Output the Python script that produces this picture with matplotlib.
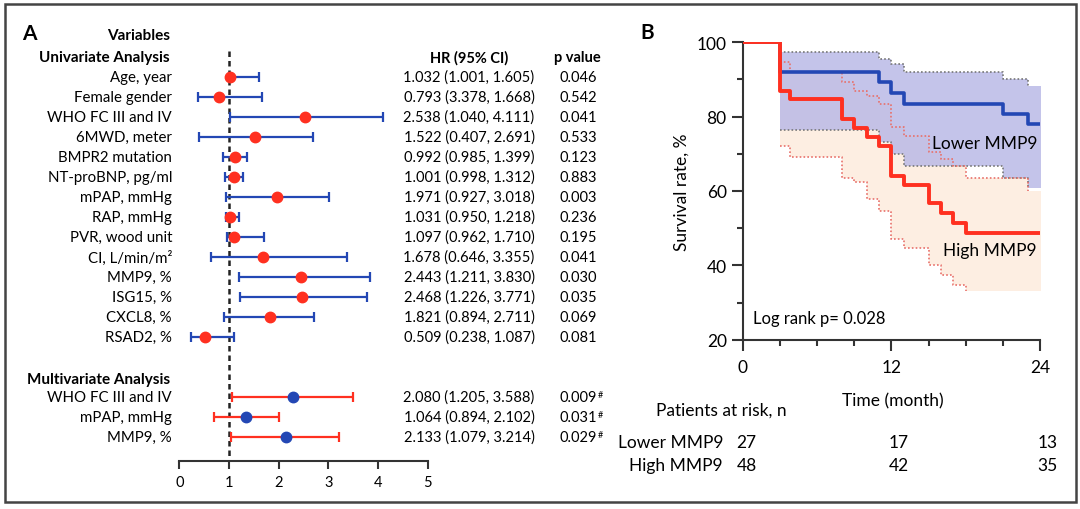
import matplotlib
matplotlib.use('Agg')
import matplotlib.pyplot as plt
import matplotlib.transforms as mtransforms
from matplotlib.patches import Rectangle
from matplotlib.ticker import MultipleLocator

plt.rcParams['font.family'] = ['Lato', 'DejaVu Sans']

# ---------------- Panel A data ----------------
uni_labels = ['Age, year', 'Female gender', 'WHO FC III and IV', '6MWD, meter',
              'BMPR2 mutation', 'NT-proBNP, pg/ml', 'mPAP, mmHg', 'RAP, mmHg',
              'PVR, wood unit', 'CI, L/min/m\u00b2', 'MMP9, %', 'ISG15, %',
              'CXCL8, %', 'RSAD2, %']
uni_hr = [1.03, 0.79, 2.54, 1.52, 1.13, 1.11, 1.97, 1.03, 1.11, 1.68, 2.44, 2.47, 1.82, 0.51]
uni_lo = [1.00, 0.38, 1.02, 0.40, 0.88, 0.92, 0.93, 0.95, 0.97, 0.64, 1.21, 1.23, 0.89, 0.24]
uni_hi = [1.60, 1.67, 4.11, 2.70, 1.36, 1.28, 3.02, 1.20, 1.71, 3.37, 3.83, 3.78, 2.71, 1.11]
uni_hr_text = ['1.032 (1.001, 1.605)', '0.793 (3.378, 1.668)', '2.538 (1.040, 4.111)',
               '1.522 (0.407, 2.691)', '0.992 (0.985, 1.399)', '1.001 (0.998, 1.312)',
               '1.971 (0.927, 3.018)', '1.031 (0.950, 1.218)', '1.097 (0.962, 1.710)',
               '1.678 (0.646, 3.355)', '2.443 (1.211, 3.830)', '2.468 (1.226, 3.771)',
               '1.821 (0.894, 2.711)', '0.509 (0.238, 1.087)']
uni_p = ['0.046', '0.542', '0.041', '0.533', '0.123', '0.883', '0.003', '0.236',
         '0.195', '0.041', '0.030', '0.035', '0.069', '0.081']

multi_labels = ['WHO FC III and IV', 'mPAP, mmHg', 'MMP9, %']
multi_hr = [2.29, 1.35, 2.14]
multi_lo = [1.07, 0.69, 1.05]
multi_hi = [3.49, 2.00, 3.21]
multi_hr_text = ['2.080 (1.205, 3.588)', '1.064 (0.894, 2.102)', '2.133 (1.079, 3.214)']
multi_p = ['0.009', '0.031', '0.029']

forest_ticks = [0, 1, 2, 3, 4, 5]

# ---------------- Panel B data ----------------
low_t = [0, 3, 11, 12, 13, 21, 23, 24]
low_s = [100, 92.0, 89.2, 86.3, 83.5, 80.7, 77.9, 77.9]
high_t = [0, 3, 3.8, 8, 9, 10, 11, 12, 13, 15, 16, 17, 18, 24]
high_s = [100, 87.0, 84.8, 79.4, 77.0, 74.6, 72.2, 64.1, 61.7, 56.7, 54.1, 51.4, 48.8, 48.8]

low_ci_t = [3, 11, 12, 13, 21, 23, 24.3]
low_ci_up = [97.3, 95.6, 94.1, 92.1, 90.1, 88.2, 88.2]
low_ci_dn = [76.4, 73.2, 70.0, 66.8, 63.5, 60.7, 60.7]

high_ci_t = [3, 3.8, 8, 9, 10, 11, 12, 13, 15, 16, 17, 18, 23, 24.3]
high_ci_up = [94.6, 91.9, 89.3, 87.0, 85.5, 83.4, 77.1, 74.9, 70.4, 68.6, 66.8, 63.5, 60.1, 60.1]
high_ci_dn = [72.1, 69.2, 63.4, 62.4, 57.9, 54.7, 47.1, 44.6, 40.0, 37.4, 34.6, 33.0, 33.0, 33.0]

risk_times = [0, 12, 24]
risk_low = [27, 17, 13]
risk_high = [48, 42, 35]

BLUE = '#2347b4'
RED = '#ff3020'

W, H = 1080, 510
fig = plt.figure(figsize=(W / 100, H / 100), dpi=100)

def fx(px):
    return px / W

def fy(py):
    return 1 - py / H

# ================= Panel A =================
row_px0, row_step = 78.0, 20.0
ax_top_px, ax_bot_px = 28.0, 462.0
ax = fig.add_axes([fx(179.3), fy(ax_bot_px), fx(427.7) - fx(179.3), fy(ax_top_px) - fy(ax_bot_px)])
ax.set_xlim(0, 5)
ax.set_ylim((ax_bot_px - row_px0) / row_step, (ax_top_px - row_px0) / row_step)
for s in ['left', 'top', 'right']:
    ax.spines[s].set_visible(False)
ax.spines['bottom'].set_linewidth(1.5)
ax.spines['bottom'].set_color('#333333')
ax.set_yticks([])
ax.set_xticks(forest_ticks)
ax.tick_params(axis='x', length=6, width=1.5, color='#333333', labelsize=10.5, pad=4)

uni_y = list(range(len(uni_labels)))
multi_y = [16, 17, 18]

ax.plot([1, 1], [-1.3, ax.get_ylim()[0]], ls=(0, (2.2, 1.6)), color='#222222', lw=1.8, zorder=1)

uni_err = [[h - l for h, l in zip(uni_hr, uni_lo)], [hi - h for h, hi in zip(uni_hr, uni_hi)]]
ax.errorbar(uni_hr, uni_y, xerr=uni_err, fmt='none', ecolor=BLUE, elinewidth=1.6,
            capsize=3.5, capthick=1.6, zorder=2)
ax.plot(uni_hr, uni_y, 'o', color=RED, ms=7.5, zorder=3, clip_on=False)

multi_err = [[h - l for h, l in zip(multi_hr, multi_lo)], [hi - h for h, hi in zip(multi_hr, multi_hi)]]
ax.errorbar(multi_hr, multi_y, xerr=multi_err, fmt='none', ecolor=RED, elinewidth=1.6,
            capsize=3.5, capthick=1.6, zorder=2)
ax.plot(multi_hr, multi_y, 'o', color=BLUE, ms=7.5, zorder=3, clip_on=False)

tr = mtransforms.blended_transform_factory(fig.transFigure, ax.transData)
fs = 10.5
lab_fs = 10.8
lab_x = fx(172)
hr_x = fx(469)
p_x = fx(560)
for y, lab, hrt, p in zip(uni_y, uni_labels, uni_hr_text, uni_p):
    ax.text(lab_x, y, lab, transform=tr, ha='right', va='center', fontsize=lab_fs)
    ax.text(hr_x, y, hrt, transform=tr, ha='center', va='center', fontsize=fs)
    ax.text(p_x, y, p, transform=tr, ha='left', va='center', fontsize=fs)
for y, lab, hrt, p in zip(multi_y, multi_labels, multi_hr_text, multi_p):
    ax.text(lab_x, y, lab, transform=tr, ha='right', va='center', fontsize=lab_fs)
    ax.text(hr_x, y, hrt, transform=tr, ha='center', va='center', fontsize=fs)
    t = ax.text(p_x, y, p, transform=tr, ha='left', va='center', fontsize=fs)
    ax.annotate('#', xy=(1, 1.0), xycoords=t, ha='left', va='top', fontsize=6.5)

ax.text(fx(170), -2.1, 'Variables', transform=tr, ha='right', va='center', fontsize=11, fontweight='bold')
ax.text(fx(170), -1.0, 'Univariate Analysis', transform=tr, ha='right', va='center', fontsize=11, fontweight='bold')
ax.text(fx(170), 15.1, 'Multivariate Analysis', transform=tr, ha='right', va='center', fontsize=11, fontweight='bold')
ax.text(hr_x, -1.0, 'HR (95% CI)', transform=tr, ha='center', va='center', fontsize=fs, fontweight='bold')
ax.text(fx(577), -1.0, 'p value', transform=tr, ha='center', va='center', fontsize=fs, fontweight='bold')
fig.text(fx(22), fy(34), 'A', fontsize=15, fontweight='bold', ha='left', va='center')

# ================= Panel B =================
bx = fig.add_axes([fx(742.7), fy(340.7), fx(1040) - fx(742.7), fy(43.3) - fy(340.7)])
bx.set_xlim(0, 24)
bx.set_ylim(20, 100)
for s in ['top', 'right']:
    bx.spines[s].set_visible(False)
for s in ['left', 'bottom']:
    bx.spines[s].set_linewidth(1.5)
    bx.spines[s].set_color('#333333')
bx.set_xticks([0, 12, 24])
bx.xaxis.set_minor_locator(MultipleLocator(3))
bx.set_yticks([20, 40, 60, 80, 100])
bx.yaxis.set_minor_locator(MultipleLocator(10))
bx.tick_params(which='major', length=8, width=1.5, color='#333333', labelsize=12.5)
bx.tick_params(which='minor', length=4, width=1.5, color='#333333')
bx.tick_params(axis='x', pad=6)

bx.fill_between(high_ci_t, high_ci_dn, high_ci_up, step='post', color='#fdeee2', lw=0, zorder=1)
bx.fill_between(low_ci_t, low_ci_dn, low_ci_up, step='post', color='#b8b8e6', alpha=0.82, lw=0, zorder=2)

dot = (0, (1, 1.3))
bx.step(low_ci_t[:-1], low_ci_up[:-1], where='post', color='#777777', lw=1.2, ls=dot, zorder=3)
bx.step(low_ci_t[:-1], low_ci_dn[:-1], where='post', color='#777777', lw=1.2, ls=dot, zorder=3)
bx.step(high_ci_t[:-1], high_ci_up[:-1], where='post', color='#e8706a', lw=1.2, ls=dot, zorder=3)
bx.step(high_ci_t[:-2], high_ci_dn[:-2], where='post', color='#e8706a', lw=1.2, ls=dot, zorder=3)

bx.step(low_t, low_s, where='post', color=BLUE, lw=2.6, zorder=4)
bx.step(high_t, high_s, where='post', color=RED, lw=2.8, zorder=5)

bx.text(15.25, 72.8, 'Lower MMP9', fontsize=12.5, ha='left', va='center', zorder=6)
bx.text(16.2, 44.0, 'High MMP9', fontsize=12.5, ha='left', va='center', zorder=6)
bx.text(0.86, 25.9, 'Log rank p= 0.028', fontsize=12, ha='left', va='center', zorder=6)

fig.text(fx(681.5), fy(192), 'Survival rate, %', fontsize=12.5, rotation=90, ha='center', va='center')
fig.text(fx(893), fy(401), 'Time (month)', fontsize=12.5, ha='center', va='center')
fig.text(fx(656.5), fy(411), 'Patients at risk, n', fontsize=12.5, ha='left', va='center')
fig.text(fx(723), fy(443.5), 'Lower MMP9', fontsize=12.5, ha='right', va='center')
fig.text(fx(723), fy(466.5), 'High MMP9', fontsize=12.5, ha='right', va='center')
trb = mtransforms.blended_transform_factory(bx.transData, fig.transFigure)
for t, a, b in zip(risk_times, risk_low, risk_high):
    xo = t - 0.5 if t == 0 else t - 0.2
    bx.text(xo, fy(443.5), str(a), transform=trb, fontsize=12.5, ha='left', va='center', clip_on=False)
    bx.text(xo, fy(466.5), str(b), transform=trb, fontsize=12.5, ha='left', va='center', clip_on=False)
fig.text(fx(640), fy(33), 'B', fontsize=15, fontweight='bold', ha='left', va='center')

# frame
fig.add_artist(Rectangle((fx(5), fy(502.5)), fx(1076) - fx(5), fy(5) - fy(502.5),
                         transform=fig.transFigure, fill=False, ec='#444444', lw=1.8))

fig.savefig('out.png', dpi=100)
